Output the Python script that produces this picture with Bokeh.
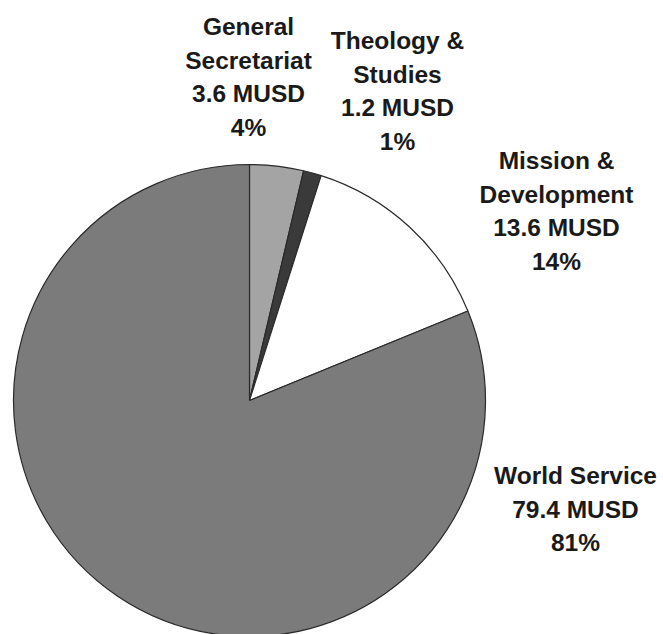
import math
from bokeh.plotting import figure
from bokeh.models import Range1d, ColumnDataSource
from bokeh.core.properties import value
from bokeh.embed import file_html
from bokeh.resources import INLINE

# ---- data ----
categories = ["General Secretariat", "Theology & Studies", "Mission & Development", "World Service"]
name_lines = [["General", "Secretariat"], ["Theology &", "Studies"], ["Mission &", "Development"], ["World Service"]]
musd = [3.6, 1.2, 13.6, 79.4]
percent = [4, 1, 14, 81]
colors = ["#a4a4a4", "#3a3a3a", "#ffffff", "#7b7b7b"]

# ---- layout (pixels, top-left origin) ----
W, H = 663, 634
cx, cy, R = 249, 400, 236
label_anchor = [(248, 26), (397, 40), (556, 160), (575, 475)]
line_step = 33.5

p = figure(width=W, height=H, x_range=Range1d(0, W), y_range=Range1d(0, H),
           output_backend="svg", toolbar_location=None, min_border=0)
p.axis.visible = False
p.xgrid.visible = False
p.ygrid.visible = False
p.outline_line_color = None
p.background_fill_color = "white"
p.border_fill_color = "white"

total = sum(musd)
starts, ends = [], []
cum = 0.0
for v in musd:
    starts.append(math.pi / 2 - 2 * math.pi * cum / total)
    cum += v
    ends.append(math.pi / 2 - 2 * math.pi * cum / total)

src = ColumnDataSource(dict(x=[cx] * len(musd), y=[H - cy] * len(musd),
                            start=starts, end=ends, color=colors, cat=categories))
p.wedge(x="x", y="y", radius=R, start_angle="start", end_angle="end", direction="clock",
        fill_color="color", line_color="#2a2a2a", line_width=1.2, source=src)

tx, ty, tt = [], [], []
for i, cat in enumerate(categories):
    lines = name_lines[i] + [f"{musd[i]} MUSD", f"{percent[i]}%"]
    ax, ay = label_anchor[i]
    for j, ln in enumerate(lines):
        tx.append(ax)
        ty.append(H - (ay + j * line_step))
        tt.append(ln)

p.text(x=tx, y=ty, text=tt, text_align="center", text_baseline="middle",
       text_font=value("Liberation Sans"), text_font_style="bold",
       text_font_size="24.5px", text_color="#1a1a1a")

open("out.html", "w").write(file_html(p, INLINE))
